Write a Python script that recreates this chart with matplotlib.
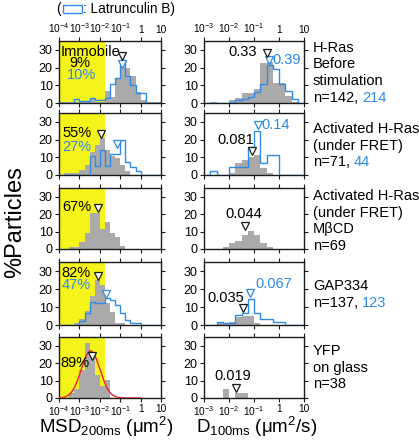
"""Mobility histograms of H-Ras: MSD in 200 ms (left) and D in 100 ms (right)."""

import matplotlib

matplotlib.use("Agg")
import matplotlib.pyplot as plt
import numpy as np
from matplotlib.patches import Rectangle
from matplotlib.ticker import NullLocator

plt.rcParams["font.family"] = "Liberation Sans"
plt.rcParams["mathtext.fontset"] = "custom"
plt.rcParams["mathtext.rm"] = "Liberation Sans"
plt.rcParams["mathtext.it"] = "Liberation Sans:italic"
plt.rcParams["mathtext.bf"] = "Liberation Sans:bold"

W, H = 419, 441
GRAY = "#aaaaaa"
BLUE = "#2e8ae6"
YELLOW = "#f5f41a"
RED = "#e8212b"
INK = "#1a1a1a"
FS = 10.5

# ---- data: % particles per 0.25-decade bin ----
MSD_LOG_RANGE = (-4, 1)   # 20 bins, um^2
D_LOG_RANGE = (-3, 1)     # 16 bins, um^2/s
IMMOBILE_LIMIT = 10 ** -1.75

MSD_GRAY = [
    [0.7, 0.7, 0.7, 0.7, 0.7, 0.7, 2.5, 0.8, 0.8, 6.5, 3.5, 14, 21, 19.5, 15, 6.4, 1.7, 0.8, 0.7, 0.7],
    [0, 1, 1, 1, 2.8, 5.7, 13, 17, 21, 14, 11, 9.4, 5.7, 2, 0, 0, 0, 0, 0, 0],
    [0, 0, 1.2, 1.2, 3.8, 9, 20.7, 20.7, 11.5, 15.5, 9, 7, 1.5, 0, 0, 0, 0, 0, 0, 0],
    [0, 0, 0, 1, 3.5, 8, 16, 25, 22, 12, 7, 1.3, 1.3, 0, 0, 0, 0, 0, 0, 0],
    [0, 0, 2.6, 5.3, 15.8, 31.6, 23.7, 13.2, 6.6, 10.5, 0, 0, 0, 0, 0, 0, 0, 0, 0, 0],
]
MSD_BLUE = [
    [0, 0, 0, 2, 1, 1, 3, 1.5, 1.5, 3, 10.5, 14, 24.5, 15, 10, 5.5, 5.5, 0, 0, 0],
    [0, 0, 0, 0, 0, 0, 11, 5, 14, 5, 12, 12, 20, 7.5, 4.5, 2, 0, 0, 0, 0],
    None,
    [0, 0, 0, 0, 2, 6.5, 13, 12.5, 12, 15, 14, 11, 6.5, 2.8, 1.3, 1.3, 0, 0, 0, 0],
    None,
]
D_GRAY = [
    [0, 0.8, 0, 0, 1.5, 3, 5.5, 5.5, 8, 22.5, 23, 11.3, 11.3, 3.8, 0.5, 0],
    [0, 0, 0, 0, 1.4, 7, 8.5, 9.9, 11.3, 4.2, 1.4, 0, 0, 0, 0, 0],
    [0, 0, 0, 1.3, 3.2, 4.5, 7.9, 10.4, 7.9, 3.2, 1, 0, 0, 0, 0, 0],
    [0, 0, 1.3, 1.3, 1.9, 4.7, 5.1, 5.1, 1.3, 0, 0, 0, 0, 0, 0, 0],
    [0, 0, 0, 5.3, 0, 2.6, 2.6, 0, 0, 0, 0, 0, 0, 0, 0, 0],
]
D_BLUE = [
    [0, 0, 0, 0, 0.8, 1.5, 2.5, 3.5, 6, 11, 21.5, 19, 10.5, 6.5, 2, 0],
    [0, 2.3, 0, 0, 4.5, 4.5, 4.5, 15.9, 25, 6.8, 11.4, 11.4, 0, 0, 0, 0],
    None,
    [0, 0, 1.9, 1.3, 1.3, 5.7, 6.6, 14.5, 6.6, 3.2, 3.2, 1.9, 1.9, 0, 0, 0],
    None,
]

IMMOBILE_GRAY = ["9%", "55%", "67%", "82%", "89%"]
IMMOBILE_BLUE = ["10%", "27%", None, "47%", None]

# median arrows: (x value, arrow height in %)
MSD_MED_GRAY = [(0.123, 26.3), (0.012, 23.3), (0.0085, 23.5), (0.0079, 27), (0.004, 24.3)]
MSD_MED_BLUE = [(0.129, 22), (0.069, 17.5), None, (0.02, 17), None]
D_MED_GRAY = [(0.33, 28.5), (0.081, 13.5), (0.044, 13), (0.035, 9.5), (0.019, 6)]
D_MED_BLUE = [(0.39, 24), (0.14, 28), None, (0.067, 18), None]

# Gaussian fit on the YFP-on-glass MSD histogram (log10 space)
FIT_AMP = 27.0
FIT_LOG_CENTER = -2.45
FIT_LOG_SIGMA = 0.46

CONDITIONS = [
    ["H-Ras", "Before", "stimulation"],
    ["Activated H-Ras", "(under FRET)"],
    ["Activated H-Ras", "(under FRET)", "M\u03b2CD"],
    ["GAP334"],
    ["YFP", "on glass"],
]
N_GRAY = [142, 71, 69, 137, 38]
N_BLUE = [214, 44, None, 123, None]

MSD_TICKLABELS = ["$10^{-4}$", "$10^{-3}$", "$10^{-2}$", "$10^{-1}$", "1", "10"]
D_TICKLABELS = ["$10^{-3}$", "$10^{-2}$", "$10^{-1}$", "1", "10"]

# ---- layout (pixels) ----
ROWS_PX = [(41, 103), (113, 175), (188, 249), (262, 325), (337, 398)]
LEFT_PX = (59, 161)
RIGHT_PX = (204, 304)
COND_X_PX = 313
COND_BASE_PX = [51.7, 133, 200, 290, 355]
LINE_PX = 16.6
# (log10 x, y) centres of the median value labels, gray then blue
D_LABEL_POS = [
    ((-1.46, 28.8), (0.32, 24.3)),
    ((-1.72, 19.8), (-0.12, 28.2)),
    ((-1.40, 20.1), None),
    ((-2.12, 15.0), (-0.20, 22.8)),
    ((-1.84, 12.6), None),
]
PCT_POS = [
    ((-2.97, 22.6), (-2.92, 15.8)),
    ((-3.82, 23.7), (-3.82, 15.8)),
    ((-3.82, 24.1), None),
    ((-3.86, 28.9), (-3.86, 22.2)),
    ((-3.95, 20.1), None),
]


def _panel(fig, x_px, row, log_range, ticklabels):
    top, bottom = ROWS_PX[row]
    x0, x1 = x_px
    ax = fig.add_axes([x0 / W, 1 - bottom / H, (x1 - x0) / W, (bottom - top) / H])
    ax.set_xscale("log")
    ax.set_xlim(10.0 ** log_range[0], 10.0 ** log_range[1])
    ax.set_ylim(0, 35)
    ticks = 10.0 ** np.arange(log_range[0], log_range[1] + 1)
    ax.set_xticks(ticks, ticklabels)
    ax.xaxis.set_minor_locator(NullLocator())
    ax.set_yticks([0, 10, 20, 30])
    ax.tick_params(direction="out", length=3, width=0.8, color=INK,
                   top=True, right=True, labeltop=row == 0, labelbottom=row == 4)
    ax.tick_params(axis="x", labelsize=7.3, pad=1.5)
    ax.tick_params(axis="y", labelsize=9, pad=1.5)
    for sp in ax.spines.values():
        sp.set_linewidth(1.0)
        sp.set_color(INK)
    return ax


def _hist(ax, log_range, gray, blue):
    edges = 10.0 ** np.linspace(log_range[0], log_range[1], len(gray) + 1)
    ax.stairs(gray, edges, fill=True, color=GRAY, lw=0, zorder=2)
    if blue is not None:
        ax.stairs(blue, edges, baseline=0, color=BLUE, lw=1.0, zorder=3)


def _arrow(ax, med, color):
    if med is None:
        return
    ax.plot([med[0]], [med[1]], marker="v", ms=5.5, mfc="white", mec=color,
            mew=0.9, ls="none", zorder=6, clip_on=False)


def main() -> None:
    fig = plt.figure(figsize=(W / 100, H / 100), dpi=100)

    for row in range(5):
        # left: MSD
        ax = _panel(fig, LEFT_PX, row, MSD_LOG_RANGE, MSD_TICKLABELS)
        ax.axvspan(10.0 ** MSD_LOG_RANGE[0], IMMOBILE_LIMIT, color=YELLOW, lw=0, zorder=0.5)
        _hist(ax, MSD_LOG_RANGE, MSD_GRAY[row], MSD_BLUE[row])
        if row == 4:
            lx = np.linspace(-4, 0, 300)
            ax.plot(10 ** lx, FIT_AMP * np.exp(-0.5 * ((lx - FIT_LOG_CENTER) / FIT_LOG_SIGMA) ** 2),
                    color=RED, lw=1.0, zorder=4)
        _arrow(ax, MSD_MED_BLUE[row], BLUE)
        _arrow(ax, MSD_MED_GRAY[row], INK)
        if row == 0:
            ax.text(10 ** -3.9, 28.8, "Immobile", fontsize=FS, ha="left", va="center", zorder=7)
        (gx, gy), bpos = PCT_POS[row]
        ha = "center" if row == 0 else "left"
        ax.text(10 ** gx, gy, IMMOBILE_GRAY[row], fontsize=FS, ha=ha, va="center", zorder=7)
        if IMMOBILE_BLUE[row] is not None:
            ax.text(10 ** bpos[0], bpos[1], IMMOBILE_BLUE[row], fontsize=FS, color=BLUE,
                    ha=ha, va="center", zorder=7)

        # right: D
        ax = _panel(fig, RIGHT_PX, row, D_LOG_RANGE, D_TICKLABELS)
        _hist(ax, D_LOG_RANGE, D_GRAY[row], D_BLUE[row])
        _arrow(ax, D_MED_BLUE[row], BLUE)
        _arrow(ax, D_MED_GRAY[row], INK)
        gpos, bpos = D_LABEL_POS[row]
        ax.text(10 ** gpos[0], gpos[1], f"{D_MED_GRAY[row][0]:g}", fontsize=FS,
                ha="center", va="center", zorder=7)
        if D_MED_BLUE[row] is not None:
            ax.text(10 ** bpos[0], bpos[1], f"{D_MED_BLUE[row][0]:g}", fontsize=FS,
                    color=BLUE, ha="center", va="center", zorder=7)

        # condition labels
        base = COND_BASE_PX[row]
        for i, line in enumerate(CONDITIONS[row]):
            fig.text(COND_X_PX / W, 1 - (base + i * LINE_PX) / H, line,
                     fontsize=FS, ha="left", va="baseline")
        y_n = 1 - (base + len(CONDITIONS[row]) * LINE_PX) / H
        if N_BLUE[row] is None:
            fig.text(COND_X_PX / W, y_n, f"n={N_GRAY[row]}", fontsize=FS, ha="left", va="baseline")
        else:
            t = fig.text(COND_X_PX / W, y_n, f"n={N_GRAY[row]},", fontsize=FS,
                         ha="left", va="baseline")
            fig.add_artist(matplotlib.text.Annotation(
                str(N_BLUE[row]), xy=(1, 0), xycoords=t, xytext=(2.9, 0),
                textcoords="offset points", fontsize=FS, color=BLUE,
                ha="left", va="bottom", annotation_clip=False))

    fig.text(15 / W, 1 - 222 / H, "%Particles", rotation=90, ha="center", va="center", fontsize=17)
    fig.text(106 / W, 1 - 432.7 / H, "MSD$_{\\rm 200ms}$ (\u03bcm$^{\\rm 2}$)",
             ha="center", va="baseline", fontsize=13.5)
    fig.text(257 / W, 1 - 432.7 / H, "D$_{\\rm 100ms}$ (\u03bcm$^{\\rm 2}$/s)",
             ha="center", va="baseline", fontsize=13.5)

    # legend for the Latrunculin B outline
    fig.text(56.5 / W, 1 - 13.3 / H, "(", fontsize=9.8, ha="left", va="baseline")
    fig.add_artist(Rectangle((63.3 / W, 1 - 13.3 / H), 18.4 / W, 8.3 / H,
                             transform=fig.transFigure, fill=False, ec=BLUE, lw=1.0))
    fig.text(82.5 / W, 1 - 13.3 / H, ": Latrunculin B)", fontsize=9.8, ha="left", va="baseline")

    fig.savefig("out.png", dpi=100)
    plt.close(fig)


if __name__ == "__main__":
    main()
